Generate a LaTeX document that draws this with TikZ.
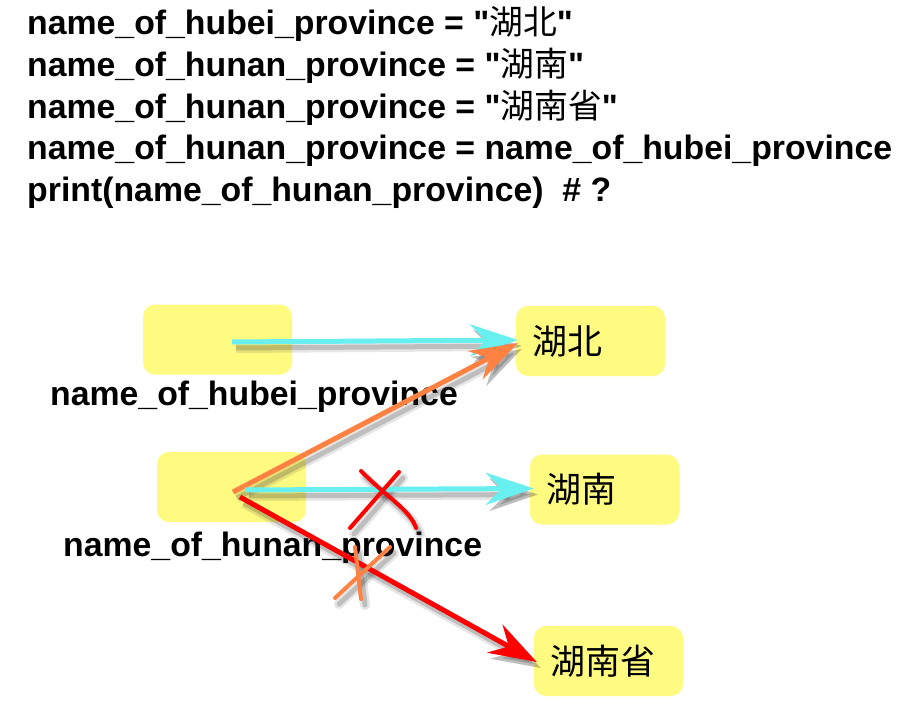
\documentclass[tikz,border=0pt]{standalone}
\usepackage{fontspec}
\setmainfont{Liberation Sans}
\newfontfamily\cjk{Noto Sans CJK SC}
\usetikzlibrary{arrows.meta}
\definecolor{boxyellow}{RGB}{255,250,128}
\definecolor{arrcyan}{RGB}{104,240,240}
\definecolor{arrorange}{RGB}{255,130,66}
\definecolor{arrred}{RGB}{255,0,0}
\tikzset{
  codeline/.style={anchor=base west,inner sep=0pt,font=\fontsize{33.8}{40}\selectfont\bfseries},
  varbox/.style={rectangle,rounded corners=12pt,fill=boxyellow,minimum width=149pt,minimum height=70pt,inner sep=0pt},
  valbox/.style={rectangle,rounded corners=12pt,fill=boxyellow,minimum width=149pt,minimum height=70pt,inner xsep=16pt,inner ysep=0pt,text width=117pt,align=left,font=\cjk\fontsize{35}{38}\selectfont},
  arr/.style={line width=5pt,-{Stealth[length=48pt,width=32pt,inset=16pt]}},
  shadA/.style={draw=black!80,opacity=0.12,line width=10pt},
  shadB/.style={draw=black!80,opacity=0.22,line width=5pt},
  cross/.style={line width=4pt,line cap=round}
}
\begin{document}
\begin{tikzpicture}[x=1pt,y=-1pt]
\useasboundingbox[fill=white] (0,0) rectangle (919,725);
% code lines
\node[codeline] (l1) at (27,35) {name\_of\_hubei\_province = \textquotedbl{\cjk\mdseries 湖北}\textquotedbl};
\node[codeline] (l2) at (27,76.5) {name\_of\_hunan\_province = \textquotedbl{\cjk\mdseries 湖南}\textquotedbl};
\node[codeline] (l3) at (27,118) {name\_of\_hunan\_province = \textquotedbl{\cjk\mdseries 湖南省}\textquotedbl};
\node[codeline] (l4) at (27,159.5) {name\_of\_hunan\_province = name\_of\_hubei\_province};
\node[codeline] (l5) at (27,201) {print(name\_of\_hunan\_province) \ \# ?};
% boxes
\node[varbox] (hubeivar) at (217.5,339.5) {};
\node[varbox] (hunanvar) at (231.5,487) {};
\node[valbox] (hubei) at (590.5,341) {湖北};
\node[valbox] (hunan) at (604.5,489.5) {湖南};
\node[valbox] (hunansheng) at (608.5,661) {湖南省};
% labels
\node[codeline] (lab1) at (50,405) {name\_of\_hubei\_province};
\node[codeline] (lab2) at (63,556) {name\_of\_hunan\_province};
% arrow endpoints
\coordinate (s1) at (232,342);
\coordinate (s2) at (233,492);
\coordinate (s3) at (245,490);
\coordinate (s4) at (240,497);
\path (hubei.west) ++(2,-1) coordinate (e1) ++(0,3) coordinate (e2);
\path (hunan.west) ++(4,-1) coordinate (e3);
\path (hunansheng.west) ++(3,1) coordinate (e4);
% shadows
\begin{scope}[transform canvas={shift={(4pt,-6pt)}}]
\foreach \s in {shadA,shadB}{
\draw[arr,\s] (s1) -- (e1);
\draw[arr,\s] (s2) -- (e2);
\draw[arr,\s] (s3) -- (e3);
\draw[arr,\s] (s4) -- (e4);
\draw[cross,\s] (350,528) -- (399,472);
\draw[cross,\s] (361,471) .. controls (390,500) and (410,510) .. (416,528);
\draw[cross,\s] (335,598) -- (390,547);
\draw[cross,\s] (355,547) -- (361,599);
}
\end{scope}
% arrows
\draw[arr,arrcyan] (s1) -- (e1);
\draw[arr,arrorange] (s2) -- (e2);
\draw[arr,arrcyan] (s3) -- (e3);
\draw[arr,arrred] (s4) -- (e4);
% crosses
\draw[cross,arrred] (350,528) -- (399,472);
\draw[cross,arrred] (361,471) .. controls (390,500) and (410,510) .. (416,528);
\draw[cross,arrorange] (335,598) -- (390,547);
\draw[cross,arrorange] (355,547) -- (361,599);
\end{tikzpicture}
\end{document}
